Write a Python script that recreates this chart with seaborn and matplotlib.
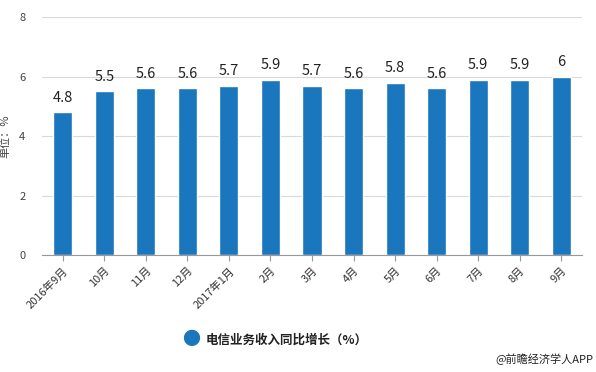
import matplotlib
matplotlib.use("Agg")
import matplotlib.pyplot as plt
import seaborn as sns
import pandas as pd

months = ["2016年9月", "10月", "11月", "12月", "2017年1月", "2月", "3月",
          "4月", "5月", "6月", "7月", "8月", "9月"]
growth = [4.8, 5.5, 5.6, 5.6, 5.7, 5.9, 5.7, 5.6, 5.8, 5.6, 5.9, 5.9, 6]
labels = ["4.8", "5.5", "5.6", "5.6", "5.7", "5.9", "5.7", "5.6", "5.8", "5.6", "5.9", "5.9", "6"]
series_name = "电信业务收入同比增长（%）"

df = pd.DataFrame({"month": months, "growth": growth})

sns.set_style("white")
plt.rcParams["font.family"] = ["Noto Sans CJK SC", "DejaVu Sans"]

blue = "#1a76bd"
fig = plt.figure(figsize=(5.96, 3.72), dpi=100)
ax = fig.add_axes([0.0705, 0.3145, 0.906, 0.6395])

sns.barplot(data=df, x="month", y="growth", color=blue, width=0.46,
            saturation=1, ax=ax)

for i, v in enumerate(growth):
    ax.text(i, v + 0.25, labels[i], ha="center", va="bottom", fontsize=10.5,
            color="#222222")

ax.set_ylim(0, 8)
ax.set_xlim(-0.5, 12.5)
ax.set_yticks([0, 2, 4, 6, 8])
ax.yaxis.grid(True, color="#d9d9d9", linewidth=0.8)
ax.set_axisbelow(True)
for s in ["top", "right", "left"]:
    ax.spines[s].set_visible(False)
ax.spines["bottom"].set_color("#999999")
ax.tick_params(axis="y", length=0, labelsize=8, colors="#444444", pad=12)
ax.tick_params(axis="x", length=4, color="#999999", labelsize=8, colors="#333333",
               bottom=True)
plt.setp(ax.get_xticklabels(), rotation=45, ha="right", rotation_mode="anchor")
ax.set_xlabel("")
ax.set_ylabel("单位：%", fontsize=8, color="#444444", labelpad=6)

fig.text(0.32, 0.085, "●", color=blue, fontsize=13, ha="center", va="center")
fig.text(0.345, 0.085, series_name, fontsize=9, fontweight="bold", color="#222222",
         ha="left", va="center")
fig.text(0.995, 0.035, "@前瞻经济学人APP", fontsize=8, color="#222222",
         ha="right", va="center")

fig.savefig("out.png", dpi=100)
